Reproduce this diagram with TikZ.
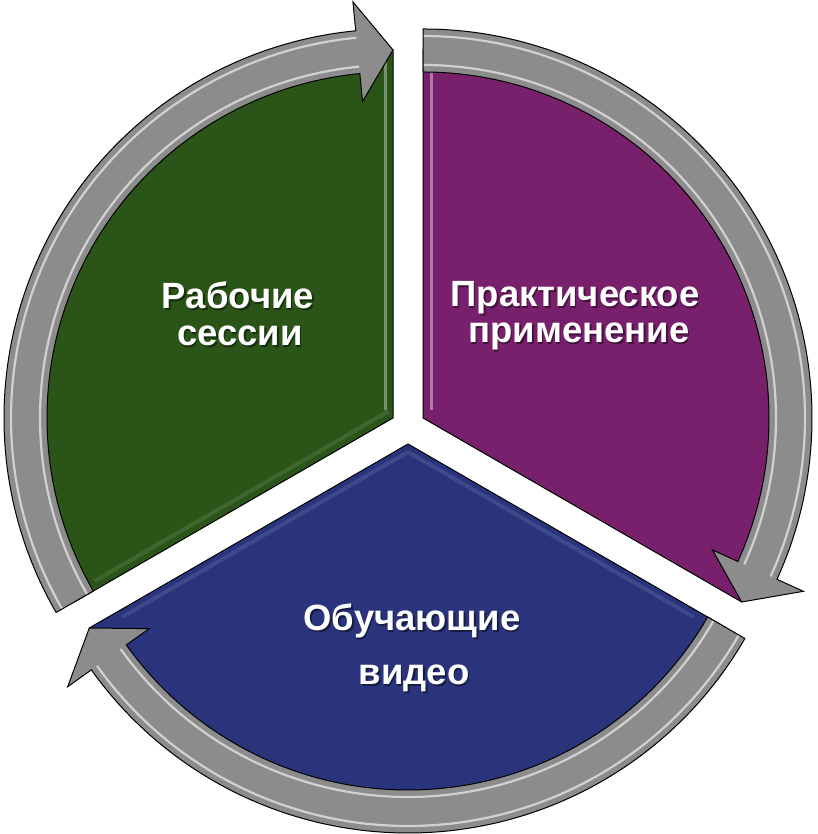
\documentclass[tikz,border=0pt]{standalone}
\usepackage{fontspec}
\setmainfont{Liberation Sans}
\usetikzlibrary{calc}
\definecolor{segGreen}{RGB}{42,84,24}
\definecolor{segPurple}{RGB}{121,32,108}
\definecolor{segBlue}{RGB}{41,52,125}
\definecolor{bandGray}{RGB}{140,140,140}
\tikzset{
  wedge/.style={draw=black,line width=1pt,line join=round},
  band/.style={fill=bandGray,draw=none},
  bandline/.style={draw=black,line width=1pt,line join=miter},
  glint/.style={white,opacity=0.6,line width=2.2pt},
  lbl/.style={text=white,font=\bfseries\fontsize{36.5}{42}\selectfont,anchor=base,inner sep=0pt},
  lblshadow/.style={text=black,opacity=0.45,font=\bfseries\fontsize{36.5}{42}\selectfont,anchor=base,inner sep=0pt}
}
% #1 centre, #2 tail angle, #3 head base angle, #4 tip angle
\newcommand\cyclearrowpath[4]{
  ([shift={(#1)}]#2:389) arc[start angle=#2,end angle=#3,radius=389]
  -- ([shift={(#1)}]#3:418) -- ([shift={(#1)}]#4:368) -- ([shift={(#1)}]#3:318)
  -- ([shift={(#1)}]#3:346) arc[start angle=#3,end angle=#2,radius=346] -- cycle}
\newcommand\cyclearrow[4]{
  \fill[band] \cyclearrowpath{#1}{#2}{#3}{#4};
  \draw[glint] ([shift={(#1)}]#2:353) arc[start angle=#2,end angle=#3,radius=353];
  \draw[glint] ([shift={(#1)}]#2:382) arc[start angle=#2,end angle=#3,radius=382];
  \draw[bandline] \cyclearrowpath{#1}{#2}{#3}{#4};
}
\newcommand\lbltext[3]{%
  \node[lblshadow] at ([shift={(1.5,-1.5)}]#1) {#3};
  \node[lbl] (#2) at (#1) {#3};}
\begin{document}
\begin{tikzpicture}[x=1pt,y=1pt]
\useasboundingbox (0,0) rectangle (817,834);
\coordinate (G) at (393,416);
\coordinate (P) at (423,416);
\coordinate (B) at (408,390);
% wedges
\fill[segGreen] (G) -- ([shift={(G)}]90:368) arc[start angle=90,end angle=210,radius=368] -- cycle;
\fill[segPurple] (P) -- ([shift={(P)}]-30:368) arc[start angle=-30,end angle=90,radius=368] -- cycle;
\fill[segBlue] (B) -- ([shift={(B)}]210:368) arc[start angle=210,end angle=330,radius=368] -- cycle;
% edge highlights
\draw[segGreen!55!white,line width=3pt,opacity=0.8] ($(G)+(-8,8)$) -- ($(G)+(-8,360)$);
\draw[segPurple!50!white,line width=3pt,opacity=0.8] ($(P)+(8,8)$) -- ($(P)+(8,360)$);
\draw[segBlue!70!white,line width=4pt,opacity=0.35] ($(B)+(0,-8)$) -- ($(B)+(0,-8)+(210:330)$);
\draw[segBlue!70!white,line width=4pt,opacity=0.35] ($(B)+(0,-8)$) -- ($(B)+(0,-8)+(330:330)$);
\draw[segGreen!65!white,line width=4pt,opacity=0.3] ($(G)+(-4,7)$) -- ($(G)+(-4,7)+(210:340)$);
% outlines
\draw[wedge] (G) -- ([shift={(G)}]90:368) arc[start angle=90,end angle=210,radius=368] -- cycle;
\draw[wedge] (P) -- ([shift={(P)}]-30:368) arc[start angle=-30,end angle=90,radius=368] -- cycle;
\draw[wedge] (B) -- ([shift={(B)}]210:368) arc[start angle=210,end angle=330,radius=368] -- cycle;
% arrows
\cyclearrow{G}{210}{95.5}{90}
\cyclearrow{P}{90}{-24.5}{-30}
\cyclearrow{B}{330}{215.5}{210}
% labels
\lbltext{238,525}{g1}{Рабочие}
\lbltext{240,488}{g2}{сессии}
\lbltext{575,527}{p1}{Практическое}
\lbltext{579,491}{p2}{применение}
\lbltext{412,203}{b1}{Обучающие}
\lbltext{414,149}{b2}{видео}
\end{tikzpicture}
\end{document}
